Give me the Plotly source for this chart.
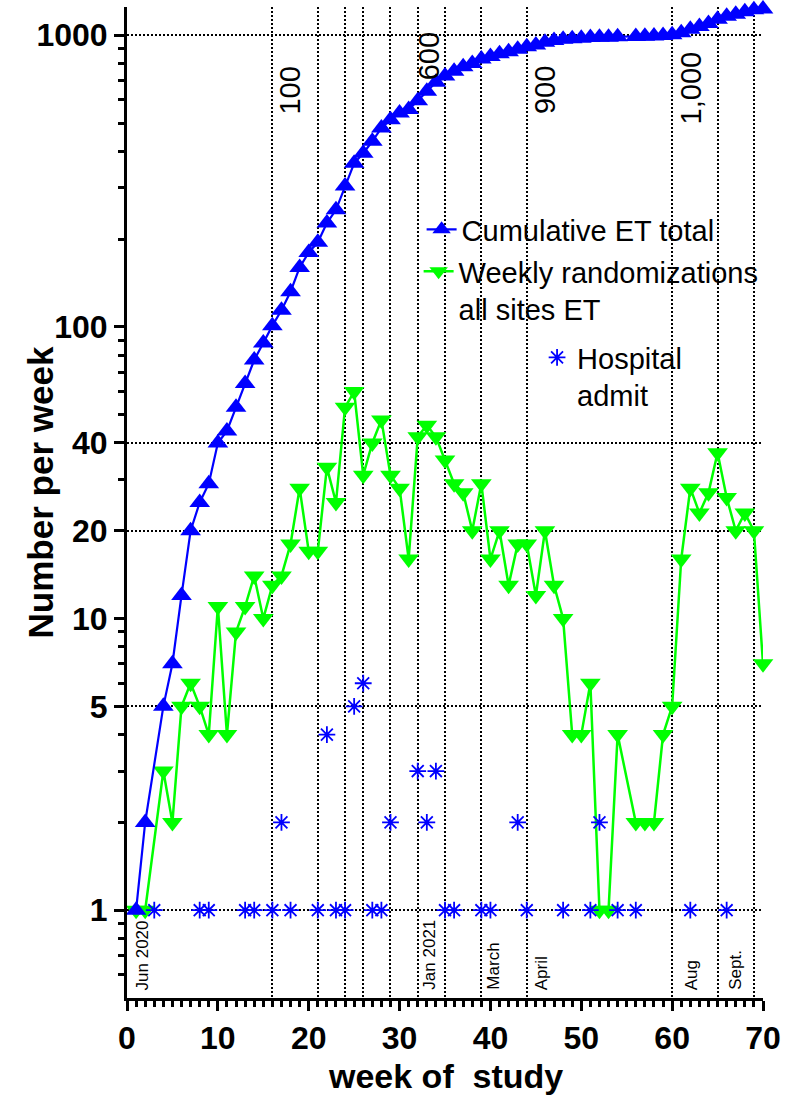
import math
import plotly.graph_objects as go

# ---------------- data ----------------
weeks = [1, 2, 4, 5, 6, 7, 8, 9, 10, 11, 12, 13, 14, 15, 16, 17, 18, 19, 20, 21,
         22, 23, 24, 25, 26, 27, 28, 29, 30, 31, 32, 33, 34, 35, 36, 37, 38, 39, 40,
         41, 42, 43, 44, 45, 46, 47, 48, 49, 50, 51, 52, 53, 54, 56, 57, 58, 59, 60,
         61, 62, 63, 64, 65, 66, 67, 68, 69, 70]

weekly_randomizations = [1, 1, 3, 2, 5, 6, 5, 4, 11, 4, 9, 11, 14, 10, 13, 14, 18, 28, 17, 17,
                         33, 25, 53, 60, 31, 40, 48, 31, 28, 16, 42, 46, 42, 35, 29, 27, 20, 29, 16,
                         20, 13, 18, 18, 12, 20, 13, 10, 4, 4, 6, 1, 1, 4, 2, 2, 2, 4, 5,
                         16, 28, 23, 27, 37, 26, 20, 23, 20, 7]

cumulative_total = [1, 2, 5, 7, 12, 20, 25, 29, 40, 44, 53, 64, 77, 88, 101, 114, 132, 160, 180, 195,
                    227, 252, 304, 364, 394, 433, 481, 513, 541, 556, 596, 643, 690, 725, 753, 780, 800, 829, 845,
                    865, 878, 896, 914, 926, 946, 959, 969, 973, 977, 983, 984, 985, 989, 991, 993, 995, 999, 1004,
                    1020, 1048, 1071, 1098, 1135, 1161, 1181, 1204, 1224, 1231]

admit_weeks = [3, 8, 9, 13, 14, 16, 17, 18, 21, 22, 23, 24, 25, 26, 27, 28, 29, 32, 33, 34,
               35, 36, 39, 40, 43, 44, 48, 51, 52, 54, 56, 62, 66]
admit_values = [1, 1, 1, 1, 1, 1, 2, 1, 1, 4, 1, 1, 5, 6, 1, 1, 2, 3, 2, 3,
                1, 1, 1, 1, 2, 1, 1, 1, 2, 1, 1, 1, 1]

grid_weeks = [16, 21, 24, 26, 29, 32, 35, 39, 44, 60, 65, 69]
grid_levels = [1, 5, 20, 40, 1000]

y_tick_vals = [1, 5, 10, 20, 40, 100, 1000]
y_tick_text = ["1", "5", "10", "20", "40", "100", "1000"]
y_minor_vals = [0.6, 0.7, 0.8, 0.9, 2, 3, 4, 6, 7, 8, 9, 30, 50, 60, 70, 80, 90,
                200, 300, 400, 500, 600, 700, 800, 900]
x_tick_vals = [0, 10, 20, 30, 40, 50, 60, 70]

milestone_text = ["100", "600", "900", "1,000"]
milestone_weeks = [16, 32, 44, 60]
milestone_ypaper = [0.916, 0.950, 0.916, 0.918]
milestone_shift = [18, 11, 18, 19]

month_text = ["Jun 2020", "Jan 2021", "March", "April", "Aug", "Sept."]
month_weeks = [1.7, 33.2, 40.3, 45.6, 62.1, 66.9]

BLUE = "#0000FF"
GREEN = "#00FF00"
FONT = "Liberation Sans"

Y_RANGE = [math.log10(0.5), math.log10(1250)]
X_RANGE = [0, 70]

fig = go.Figure()

fig.add_trace(go.Scatter(
    x=weeks, y=weekly_randomizations, mode="lines+markers",
    name="Weekly randomizations<br>all sites ET",
    line=dict(color=GREEN, width=2.5),
    marker=dict(symbol="triangle-down", size=18, color=GREEN, line=dict(width=0)),
    cliponaxis=False, legend="legend2", showlegend=True,
))

fig.add_trace(go.Scatter(
    x=weeks, y=cumulative_total, mode="lines+markers",
    name="Cumulative ET total",
    line=dict(color=BLUE, width=2.2),
    marker=dict(symbol="triangle-up", size=18, color=BLUE, line=dict(width=0)),
    cliponaxis=False, legend="legend", showlegend=True,
))

fig.add_trace(go.Scatter(
    x=admit_weeks, y=admit_values, mode="markers",
    name="Hospital<br>admit",
    marker=dict(symbol="asterisk-open", size=14, color=BLUE, line=dict(width=1.8, color=BLUE)),
    cliponaxis=False, legend="legend3", xaxis="x2", yaxis="y2", showlegend=True,
))

bold = dict(family=FONT, size=32, color="black", weight="bold")

legend_common = dict(xanchor="left", yanchor="top", bgcolor="rgba(0,0,0,0)", borderwidth=0,
                     font=dict(family=FONT, size=29, color="black"), valign="top")

fig.update_layout(
    width=788, height=1098,
    margin=dict(l=127, r=22, t=7, b=100),
    paper_bgcolor="white", plot_bgcolor="white",
    font=dict(family=FONT, color="black"),
    showlegend=True,
    xaxis=dict(
        range=X_RANGE, tickmode="array", tickvals=x_tick_vals,
        ticks="outside", ticklen=10, tickwidth=3, tickcolor="black",
        showline=True, linewidth=3, linecolor="black",
        showgrid=False, zeroline=False, tickfont=bold,
        minor=dict(dtick=1, tick0=0, ticks="outside", ticklen=6, tickwidth=2.5,
                   tickcolor="black", showgrid=False),
    ),
    yaxis=dict(
        type="log", range=Y_RANGE, tickmode="array", tickvals=y_tick_vals, ticktext=y_tick_text,
        ticks="outside", ticklen=10, tickwidth=3, tickcolor="black",
        showline=True, linewidth=3, linecolor="black",
        showgrid=False, zeroline=False, tickfont=bold,
        minor=dict(tickvals=y_minor_vals, ticks="outside", ticklen=6, tickwidth=2.5,
                   tickcolor="black", showgrid=False),
    ),
    xaxis2=dict(
        overlaying="x", anchor="y2", range=X_RANGE, tickmode="array", tickvals=grid_weeks,
        showgrid=True, gridcolor="black", gridwidth=2, griddash="2px,2px",
        showticklabels=False, ticks="", showline=False, zeroline=False,
    ),
    yaxis2=dict(
        overlaying="y", anchor="x2", type="log", range=Y_RANGE, tickmode="array", tickvals=grid_levels,
        showgrid=True, gridcolor="black", gridwidth=2, griddash="2px,2px",
        showticklabels=False, ticks="", showline=False, zeroline=False,
    ),
    legend=dict(x=(423 - 127) / 639, y=(998 - 204) / 991, visible=True, **legend_common),
    legend2=dict(x=(420 - 127) / 639, y=(998 - 246) / 991, visible=True, **legend_common),
    legend3=dict(x=(539 - 127) / 639, y=(998 - 332) / 991, visible=True, **legend_common),
)

annotations = []
for t, w, yp, sh in zip(milestone_text, milestone_weeks, milestone_ypaper, milestone_shift):
    annotations.append(dict(
        text=t, x=w, xref="x", y=yp, yref="paper", xshift=sh,
        xanchor="center", yanchor="middle", textangle=-90, showarrow=False,
        font=dict(family=FONT, size=29, color="black"),
    ))
for t, w in zip(month_text, month_weeks):
    annotations.append(dict(
        text=t, x=w, xref="x", y=(998 - 992) / 991, yref="paper",
        xanchor="center", yanchor="bottom", textangle=-90, showarrow=False,
        font=dict(family=FONT, size=17, color="black"),
    ))
annotations.append(dict(
    text="Number per week", x=(40 - 127) / 639, xref="paper", y=(998 - 492) / 991, yref="paper",
    xanchor="center", yanchor="middle", textangle=-90, showarrow=False,
    font=dict(family=FONT, size=35, color="black", weight="bold"),
))
annotations.append(dict(
    text="week of\u00a0 study", x=0.5, xref="paper", y=(998 - 1076) / 991, yref="paper",
    xanchor="center", yanchor="middle", showarrow=False,
    font=dict(family=FONT, size=34, color="black", weight="bold"),
))
fig.update_layout(annotations=annotations)

fig.write_html("out.html")
